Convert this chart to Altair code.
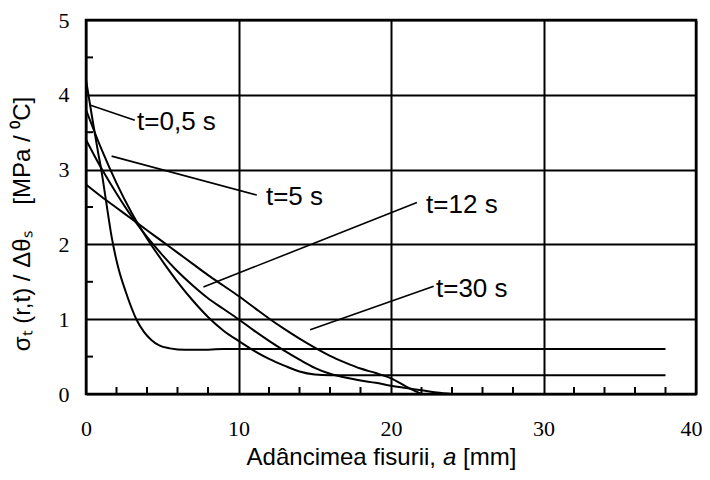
import altair as alt
import pandas as pd

# ---- data ----
x_ticks = [0, 10, 20, 30, 40]
y_ticks = [0, 1, 2, 3, 4, 5]
x_minor = [2, 4, 6, 8, 12, 14, 16, 18, 22, 24, 26, 28, 32, 34, 36, 38]
y_minor = [0.5, 1.5, 2.5, 3.5, 4.5]

t05_x = [0, 0.4, 0.8, 1.0, 1.3, 1.7, 2.1, 2.6, 3.3, 3.8, 4.3, 4.8, 5.5, 6.5, 7.5, 9, 12, 38]
t05_y = [4.2, 3.7, 3.22, 3.0, 2.6, 2.08, 1.7, 1.37, 1.0, 0.83, 0.72, 0.65, 0.61, 0.59, 0.59, 0.6, 0.6, 0.6]

t5_x = [0, 1, 2, 3, 4, 5, 6, 7, 8, 9, 10, 11, 12, 13, 14, 15, 16, 20, 38]
t5_y = [3.8, 3.28, 2.82, 2.42, 2.08, 1.78, 1.5, 1.25, 1.03, 0.85, 0.71, 0.58, 0.47, 0.38, 0.3, 0.26, 0.25, 0.25, 0.25]

t12_x = [0, 1, 2, 3, 4, 5, 6, 7, 8, 9, 10, 11, 12, 13, 14, 15, 16, 17, 18, 19, 20, 21, 22, 23, 24]
t12_y = [3.4, 3.02, 2.68, 2.37, 2.1, 1.86, 1.64, 1.45, 1.28, 1.14, 1.0, 0.85, 0.71, 0.58, 0.46, 0.35, 0.27,
         0.22, 0.18, 0.15, 0.11, 0.08, 0.05, 0.02, 0.0]

t30_x = [0, 1, 2, 3, 4, 5, 6, 7, 8, 9, 10, 11, 12, 13, 14, 15, 16, 17, 18, 19, 20, 21, 22]
t30_y = [2.8, 2.64, 2.49, 2.34, 2.19, 2.04, 1.89, 1.74, 1.59, 1.45, 1.31, 1.16, 1.01, 0.87, 0.74, 0.62, 0.51,
         0.42, 0.34, 0.28, 0.21, 0.1, 0.0]

labels = ["t=0,5 s", "t=5 s", "t=12 s", "t=30 s"]
label_x = [3.35, 11.8, 22.3, 22.95]
label_y = [3.64, 2.63, 2.53, 1.41]
leader_x1 = [0.3, 1.68, 7.7, 14.7]
leader_y1 = [3.86, 3.18, 1.43, 0.86]
leader_x2 = [3.2, 11.2, 21.7, 22.8]
leader_y2 = [3.66, 2.66, 2.56, 1.44]

# ---- layout ----
W, H = 610, 374
SANS = "Liberation Sans, Arial, sans-serif"
SERIF = "Liberation Serif, 'Times New Roman', Times, 'DejaVu Serif', serif"
NB = "\u00a0"

rows = []
for name, xs, ys in [("t05", t05_x, t05_y), ("t5", t5_x, t5_y), ("t12", t12_x, t12_y), ("t30", t30_x, t30_y)]:
    for i, (a, b) in enumerate(zip(xs, ys)):
        rows.append({"series": name, "order": i, "a": a, "s": b})
curves = pd.DataFrame(rows)

lab_df = pd.DataFrame({"label": labels, "x": label_x, "y": label_y})
lead_df = pd.DataFrame({"x1": leader_x1, "y1": leader_y1, "x2": leader_x2, "y2": leader_y2})
xm_df = pd.DataFrame({"x": x_minor})
ym_df = pd.DataFrame({"y": y_minor})

xscale = alt.Scale(domain=[0, 40], nice=False, zero=False)
yscale = alt.Scale(domain=[0, 5], nice=False, zero=False)

last_x = x_ticks[-1]
xaxis = alt.Axis(values=x_ticks, title=None, grid=True, ticks=False, tickSize=0, domain=False,
                 labelPadding=24, labelFlush=False, format="d", labelFont=SERIF, labelFontSize=22,
                 labelColor="black", gridColor="black", gridWidth=2, gridOpacity=1,
                 labelAlign=alt.ExprRef(expr=f"datum.value == {last_x} ? 'right' : 'center'"),
                 labelOffset=alt.ExprRef(expr=f"datum.value == {last_x} ? 6 : 0"))
yaxis = alt.Axis(values=y_ticks, title=None, grid=True, ticks=False, tickSize=0, domain=False,
                 labelPadding=17, labelFlush=False, format="d", labelFont=SERIF, labelFontSize=22,
                 labelColor="black", gridColor="black", gridWidth=2, gridOpacity=1)


def X(field):
    return alt.X(field, scale=xscale, axis=xaxis, title=None)


def Y(field):
    return alt.Y(field, scale=yscale, axis=yaxis, title=None)


lines = alt.Chart(curves).mark_line(color="black", strokeWidth=2, interpolate="monotone").encode(
    x=X("a:Q"), y=Y("s:Q"), detail="series:N", order="order:Q",
)

leaders = alt.Chart(lead_df).mark_rule(color="black", strokeWidth=1.6).encode(
    x=X("x1:Q"), y=Y("y1:Q"), x2="x2:Q", y2="y2:Q"
)

texts = alt.Chart(lab_df).mark_text(align="left", baseline="middle", font=SANS, fontSize=26,
                                    color="black").encode(
    x=X("x:Q"), y=Y("y:Q"), text="label:N"
)

xminor = alt.Chart(xm_df).mark_rule(color="black", strokeWidth=2).encode(
    x=X("x:Q"), y=alt.value(H), y2=alt.value(H - 7)
)
yminor = alt.Chart(ym_df).mark_rule(color="black", strokeWidth=2).encode(
    y=Y("y:Q"), x=alt.value(0), x2=alt.value(7)
)

xt_a = alt.Chart(pd.DataFrame({"t": ["Adâncimea fisurii,"]})).mark_text(
    align="right", baseline="middle", font=SANS, fontSize=24, color="black"
).encode(x=alt.value(350), y=alt.value(438), text="t:N")
xt_b = alt.Chart(pd.DataFrame({"t": ["a"]})).mark_text(
    align="left", baseline="middle", font=SANS, fontSize=24, fontStyle="italic", color="black"
).encode(x=alt.value(357), y=alt.value(438), text="t:N")
xt_c = alt.Chart(pd.DataFrame({"t": ["[mm]"]})).mark_text(
    align="left", baseline="middle", font=SANS, fontSize=24, color="black"
).encode(x=alt.value(377), y=alt.value(438), text="t:N")

ytitle = "σₜ" + NB + "(r,t) / Δθₛ" + NB * 4 + "[MPa / ⁰C]"
yt = alt.Chart(pd.DataFrame({"t": [ytitle]})).mark_text(
    align="center", baseline="middle", font=SANS, fontSize=24, angle=270, color="black"
).encode(x=alt.value(-63), y=alt.value(204), text="t:N")

chart = alt.layer(lines, xminor, yminor, leaders, texts, xt_a, xt_b, xt_c, yt).properties(
    width=W, height=H,
    autosize=alt.AutoSizeParams(type="none"),
    padding={"left": 78, "top": 12, "right": 6, "bottom": 78},
    background="white",
).configure_view(stroke="black", strokeWidth=2.5).configure_axis(
    gridColor="black", gridWidth=2, gridOpacity=1,
    labelFont=SERIF, labelFontSize=22, labelColor="black", labelFlush=False
)

chart.save("out.html", embed_options={"renderer": "svg", "actions": False})
